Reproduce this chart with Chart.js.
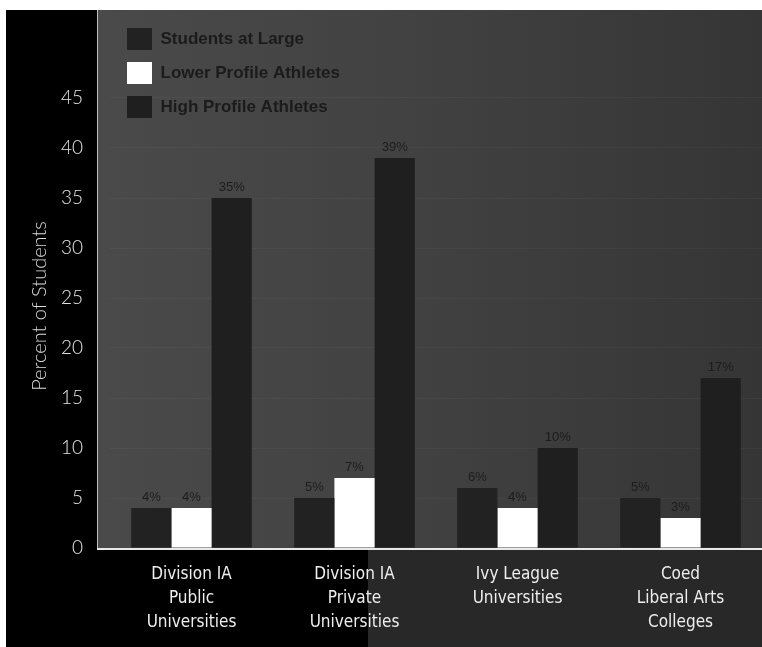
<!DOCTYPE html>
<html>
<head>
<meta charset="utf-8">
<script src="https://cdn.jsdelivr.net/npm/chart.js@4"></script>
<style>
  body { margin: 0; background: #fff; }
  #wrap { width: 762px; height: 647px; }
</style>
</head>
<body>
<div id="wrap"><canvas id="chart" width="762" height="647"></canvas></div>
<script>
// Percent of students by institution type
const categories = [
    ['Division IA', 'Public', 'Universities'],
    ['Division IA', 'Private', 'Universities'],
    ['Ivy League', 'Universities'],
    ['Coed', 'Liberal Arts', 'Colleges']
];
const seriesNames = ['Students at Large', 'Lower Profile Athletes', 'High Profile Athletes'];
const studentsAtLarge = [4, 5, 6, 5];
const lowerProfile = [4, 7, 4, 3];
const highProfile = [35, 39, 10, 17];
const yTickValues = [0, 5, 10, 15, 20, 25, 30, 35, 40, 45];
const yTitle = 'Percent of Students';

// panels behind the plot, like the printed page
const backdrop = {
    id: 'backdrop',
    beforeDraw(chart) {
        const { ctx, chartArea: a, width, height } = chart;
        const axisX = a.left - 13;
        ctx.save();
        ctx.fillStyle = '#fff';
        ctx.fillRect(0, 0, width, height);
        ctx.fillStyle = '#000';
        ctx.fillRect(6, a.top, axisX - 6, height - a.top);
        const g = ctx.createLinearGradient(axisX, 0, width, 0);
        g.addColorStop(0, '#4a4a4a');
        g.addColorStop(0.45, '#424242');
        g.addColorStop(1, '#353535');
        ctx.fillStyle = g;
        ctx.fillRect(axisX, a.top, width - axisX, a.bottom - a.top);
        ctx.fillStyle = '#000';
        ctx.fillRect(6, a.bottom, 362, height - a.bottom);
        ctx.fillStyle = '#282828';
        ctx.fillRect(368, a.bottom, width - 368, height - a.bottom);
        ctx.fillStyle = '#bdbdbd';
        ctx.fillRect(axisX, a.top, 1, a.bottom - a.top);
        ctx.fillStyle = '#e8e8e8';
        ctx.fillRect(axisX, a.bottom, width - axisX, 2);
        ctx.restore();
    },
    afterLayout(chart) {
        const lg = chart.legend, a = chart.chartArea;
        if (!lg) return;
        const w = lg.right - lg.left;
        lg.left = a.left + 5;
        lg.right = lg.left + w;
        lg.top = a.top + 6;
        lg.bottom = a.bottom;
    },
    afterDatasetsDraw(chart) {
        const ctx = chart.ctx;
        ctx.save();
        ctx.font = '13px "Liberation Sans", sans-serif';
        ctx.fillStyle = '#1c1c1c';
        ctx.textAlign = 'center';
        ctx.textBaseline = 'bottom';
        chart.data.datasets.forEach((ds, i) => {
            chart.getDatasetMeta(i).data.forEach((bar, j) => {
                ctx.fillText(ds.data[j] + '%', bar.x, bar.y - 4);
            });
        });
        // y axis title
        ctx.translate(40, 306);
        ctx.rotate(-Math.PI / 2);
        ctx.font = '300 20px Lato, sans-serif';
        ctx.fillStyle = '#dcdcdc';
        ctx.textBaseline = 'middle';
        ctx.fillText(yTitle, 0, 0);
        ctx.restore();
    }
};

const ctx = document.getElementById('chart').getContext('2d');
new Chart(ctx, {
    type: 'bar',
    data: {
        labels: categories,
        datasets: [{
            label: seriesNames[0],
            data: studentsAtLarge,
            backgroundColor: '#222222',
            borderWidth: 0
        }, {
            label: seriesNames[1],
            data: lowerProfile,
            backgroundColor: '#ffffff',
            borderWidth: 0
        }, {
            label: seriesNames[2],
            data: highProfile,
            backgroundColor: '#1f1f1f',
            borderWidth: 0
        }]
    },
    options: {
        responsive: false,
        animation: false,
        layout: { padding: { top: 10, left: 0, right: 0, bottom: 0 } },
        datasets: {
            bar: { categoryPercentage: 0.74, barPercentage: 1.0 }
        },
        plugins: {
            legend: {
                position: 'chartArea',
                align: 'start',
                labels: {
                    boxWidth: 25,
                    boxHeight: 22,
                    padding: 12,
                    color: '#1b1b1b',
                    font: { family: '"Liberation Sans", Arial, sans-serif', size: 17, weight: 'bold' }
                }
            },
            tooltip: { enabled: false }
        },
        scales: {
            x: {
                grid: { display: false, drawTicks: false },
                border: { display: false },
                ticks: {
                    color: '#eeeeee',
                    padding: 15,
                    maxRotation: 0,
                    autoSkip: false,
                    font: { family: '"Liberation Sans Narrow", "DejaVu Sans Condensed", sans-serif', size: 17, lineHeight: 1.4 }
                },
                afterFit(scale) {
                    scale.height = 99;
                    scale.paddingLeft = 0;
                    scale.paddingRight = 0;
                }
            },
            y: {
                min: 0,
                max: 53.8,
                grid: { color: 'rgba(255,255,255,0.035)', drawTicks: false },
                border: { display: false },
                ticks: {
                    stepSize: 5,
                    color: '#e4e4e4',
                    padding: 27,
                    font: { family: 'Lato, sans-serif', size: 19, weight: '300' }
                },
                afterBuildTicks(scale) {
                    scale.ticks = scale.ticks.filter(t => yTickValues.includes(t.value));
                },
                afterFit(scale) {
                    scale.width = 110;
                    scale.paddingTop = 0;
                    scale.paddingBottom = 0;
                }
            }
        }
    },
    plugins: [backdrop]
});
</script>
</body>
</html>
